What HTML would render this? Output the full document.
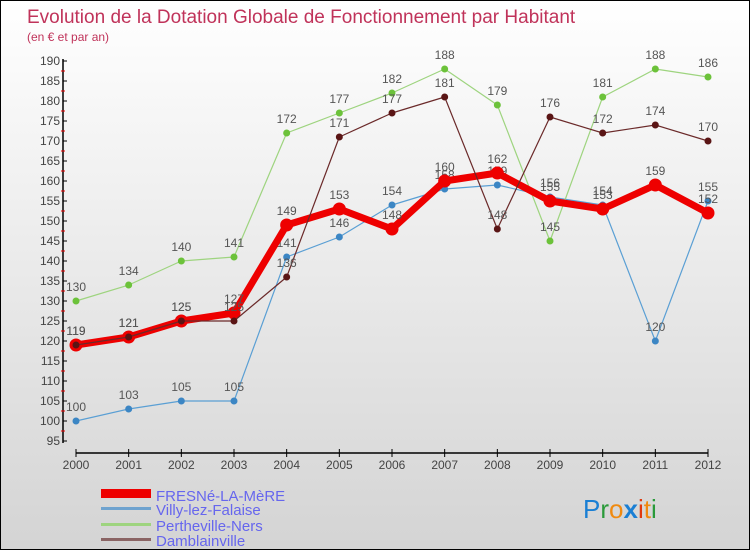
<!DOCTYPE html>
<html><head><meta charset="utf-8"><style>
body{margin:0}
#c{width:750px;height:550px;position:relative;overflow:hidden;box-sizing:border-box;border:1px solid #000;background:linear-gradient(#ffffff,#d4d4d4);font-family:"Liberation Sans",sans-serif}
text{font-family:"Liberation Sans",sans-serif}
</style></head><body>
<div id="c">
<svg id="s" width="750" height="550">
<text x="26" y="22" font-size="19" fill="#c0335a">Evolution de la Dotation Globale de Fonctionnement par Habitant</text>
<text x="26" y="40" font-size="12" fill="#c0335a">(en € et par an)</text>
<g id="axes"></g><g id="series"></g>
<g>
<rect x="100" y="488" width="50" height="9" fill="#e00"/>
<text x="155" y="500" font-size="15" fill="#6666ee">FRESNé-LA-MèRE</text>
<rect x="100" y="506" width="50" height="3" fill="#6fa3cf"/>
<text x="155" y="514" font-size="15" fill="#6666ee">Villy-lez-Falaise</text>
<rect x="100" y="522" width="50" height="3" fill="#9ed47f"/>
<text x="155" y="530" font-size="15" fill="#6666ee">Pertheville-Ners</text>
<rect x="100" y="537" width="50" height="3" fill="#8a6464"/>
<text x="155" y="545" font-size="15" fill="#6666ee">Damblainville</text>
</g>
<text x="582" y="517" font-size="26"><tspan fill="#1a7fd4">P</tspan><tspan fill="#2a9a3a">r</tspan><tspan fill="#f08a10">o</tspan><tspan fill="#1a7fd4" font-weight="bold">x</tspan><tspan fill="#e03a10">i</tspan><tspan fill="#f08a10">t</tspan><tspan fill="#2a9a3a">i</tspan></text>
</svg></div>
<script>
const years=[2000,2001,2002,2003,2004,2005,2006,2007,2008,2009,2010,2011,2012];
const yTicks=[95,100,105,110,115,120,125,130,135,140,145,150,155,160,165,170,175,180,185,190];
const fresne=[119,121,125,127,149,153,148,160,162,155,153,159,152];
const villy=[100,103,105,105,141,146,154,158,159,156,154,120,155];
const perth=[130,134,140,141,172,177,182,188,179,145,181,188,186];
const damb=[119,121,125,125,136,171,177,181,148,176,172,174,170];
const NS="http://www.w3.org/2000/svg";
const xS=i=>75+i*(707-75)/12;
const yS=v=>60+(190-v)*4;
function mk(t,a,p){const e=document.createElementNS(NS,t);for(const k in a)e.setAttribute(k,a[k]);p.appendChild(e);return e;}
const ax=document.getElementById('axes');
const yl=mk('line',{x1:62,y1:58,x2:62,y2:442,stroke:'#000','stroke-width':1.5},ax);


yTicks.forEach(v=>{
 mk('line',{x1:62,x2:66,y1:yS(v),y2:yS(v),stroke:'#000'},ax);
 if(v<190)mk('line',{x1:60,x2:64,y1:yS(v+2.5),y2:yS(v+2.5),stroke:'#e00'},ax);
 const t=mk('text',{x:59,y:yS(v)+4,'font-size':12,'text-anchor':'end',fill:'#444'},ax);t.textContent=v;
 
 
});
const xl=mk('line',{x1:75,y1:452,x2:707,y2:452,stroke:'#000','stroke-width':1.5},ax);


years.forEach((y,i)=>{
 mk('line',{x1:xS(i),x2:xS(i),y1:448,y2:456,stroke:'#000'},ax);
 const t=mk('text',{x:xS(i),y:468,'font-size':12,'text-anchor':'middle',fill:'#444'},ax);t.textContent=y;
 
 
});
const sg=document.getElementById('series');
function draw(d,col,dot,w,r,name){
 const g=mk('g',{},sg);
 
 
 mk('polyline',{points:d.map((v,i)=>xS(i)+','+yS(v)).join(' '),fill:'none',stroke:col,'stroke-width':w,'stroke-linejoin':'round'},g);
 d.forEach((v,i)=>{
  const c=mk('circle',{cx:xS(i),cy:yS(v),r:r,fill:dot,stroke:col==='#e00'?'#e00':'none','stroke-width':3},g);
  
  
  const t=mk('text',{x:xS(i),y:yS(v)-10,'font-size':12,'text-anchor':'middle',fill:'#555'},g);t.textContent=v;
  
  
 });
}
draw(villy,'#5a9fd4','#3c86c4',1.2,3.5,'villy');
draw(perth,'#9ed47f','#6cc23a',1.2,3.5,'pertheville');
draw(fresne,'#e00','#e00',7,5,'fresne');
draw(damb,'#6b2a2a','#5a1515',1.2,3.5,'damblainville');
</script>
</body></html>
